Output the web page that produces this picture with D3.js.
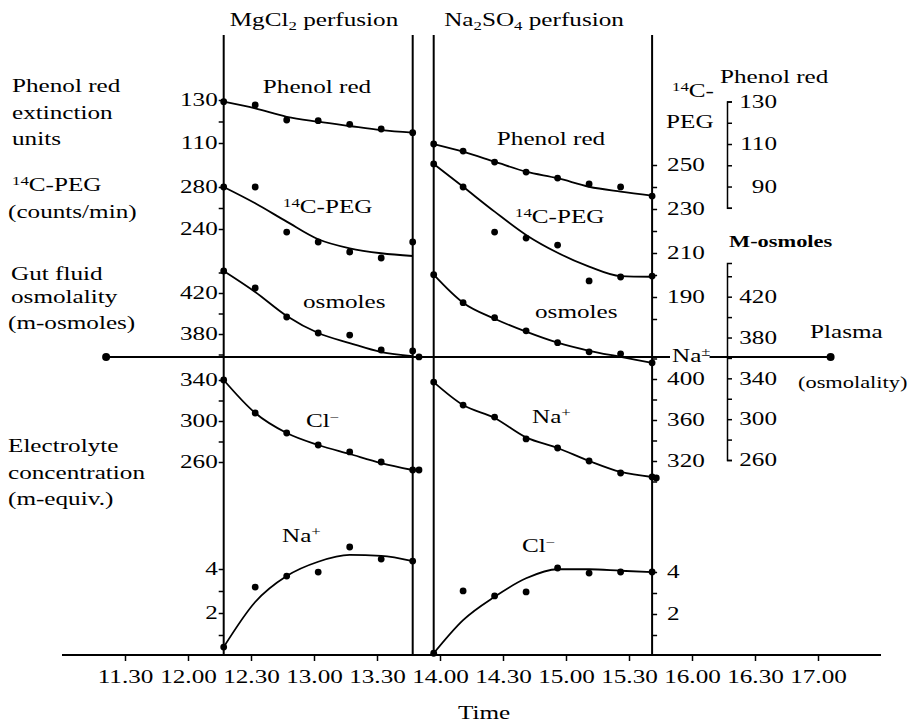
<!DOCTYPE html>
<html>
<head>
<meta charset="utf-8">
<script src="https://cdn.jsdelivr.net/npm/d3@7"></script>
<style>
  body { margin: 0; background: #fff; }
  svg { display: block; font-family: "Liberation Serif", "Times New Roman", serif; }
</style>
</head>
<body>
<div id="chart"></div>
<script>
// ---- data (times as h.mm clock readings) ----
const timeTicks = ['11.30', '12.00', '12.30', '13.00', '13.30', '14.00', '14.30', '15.00', '15.30', '16.00', '16.30', '17.00'];
const axisSpan = ['11.00', '17.30'];

const mgTimes = ['12.17', '12.32', '12.47', '13.02', '13.17', '13.32', '13.47'];
const naTimes = ['13.57', '14.11', '14.26', '14.41', '14.56', '15.11', '15.26', '15.41'];

// MgCl2 perfusion
const phenolMgDots = [129.2, 127.7, 120.7, 120.4, 118.7, 116.5, 114.8];
const phenolMgFit  = [129.2, 126.1, 122.2, 119.9, 117.9, 116.0, 114.8];
const pegMgDots    = [280, 280, 237.1, 227.6, 218.1, 212.4, 227.6];
const pegMgFit     = [280, 264.5, 247, 230.2, 221.6, 216.9, 214.3];
const osmMgDots    = [441.5, 424.9, 396.6, 381, 379, 364.4, 363.4];
const osmMgFit     = [441.5, 421, 397.6, 381, 371.2, 362.4, 358.5];
const clMgDots     = [340, 307.8, 288.3, 276.6, 269.8, 260, 252.2];
const clMgFit      = [340, 307.8, 288.3, 276.6, 267.8, 259, 252.2];
const naMgDots     = [0.45, 3.18, 3.68, 3.86, 5.0, 4.45, 4.36];
const naMgFit      = [0.45, 2.5, 3.68, 4.33, 4.64, 4.6, 4.36];
const mgExtraTime  = '13.50';
const osmMgExtra   = 357.6;
const clMgExtra    = 252.2;

// Na2SO4 perfusion
const phenolNaDots = [110, 106.7, 101.5, 96.8, 94, 91.2, 89.8, 85.5];
const phenolNaFit  = [110, 106.4, 101.7, 97, 93.9, 89.9, 87.6, 85.7];
const pegNaDots    = [250.5, 240, 219.5, 216.8, 213.6, 197.3, 199.1, 199.5];
const pegNaFit     = [250.5, 240.1, 228.8, 218.2, 210.1, 203.8, 199.5, 199.2];
const osmNaDots    = [441.6, 414.1, 399.4, 386.6, 374.9, 366, 364, 355.2];
const osmNaFit     = [441.6, 414.1, 398.4, 385.7, 374.9, 367, 361.1, 355.2];
const naNaDots     = [397, 374.6, 362.9, 341.5, 332.7, 320, 308.3, 304.4];
const naNaFit      = [397, 374.6, 362, 343, 332.7, 320, 309.3, 304.4];
const clNaDots     = [0.13, 3.1, 2.86, 3.05, 4.19, 3.95, 4, 4];
const clNaFit      = [0.13, 1.71, 2.82, 3.70, 4.13, 4.13, 4.06, 3.99];
const naExtraTime  = '15.43';
const naNaExtra    = 303.4;

// plasma osmolality line (M-osmoles scale)
const plasmaSpan = ['11.21', '17.06'];
const plasmaOsm = 361;

// tick values / labels per scale
const phenolLTicks = [110, 120, 130], phenolLLabels = [110, 130];
const pegLTicks = [240, 260, 280], pegLLabels = [240, 280];
const osmLTicks = [360, 380, 400, 420, 440], osmLLabels = [380, 420];
const clLTicks = [260, 280, 300, 320, 340], clLLabels = [260, 300, 340];
const smallTicks = [1, 2, 3, 4], smallLabels = [2, 4];
const pegMTicks = [180, 190, 200, 210, 220, 230, 240, 250], pegMLabels = [190, 210, 230, 250];
const naMTicks = [300, 320, 340, 360, 380, 400, 420], naMLabels = [320, 360, 400];
const phenolRTicks = [80, 90, 100, 110, 120, 130], phenolRLabels = [90, 110, 130];
const osmRTicks = [260, 280, 300, 320, 340, 360, 380, 400, 420, 440], osmRLabels = [260, 300, 340, 380, 420];

// ---- layout ----
const W = 919, H = 727;
const TOP = 35, BASE = 655;
const SX = 1.4;           // the print face is much wider than Times
const FS = 18;
const ink = '#000';

const toMin = s => { const [h, m] = s.split('.').map(Number); return h * 60 + m; };

const svg = d3.select('#chart').append('svg').attr('width', W).attr('height', H);
svg.append('rect').attr('width', W).attr('height', H).attr('fill', '#fff');

const x = d3.scaleLinear().domain([toMin('11.30'), toMin('17.00')]).range([125, 818]);

// y scales (each panel has its own)
const phenolL = d3.scaleLinear().domain([110, 130]).range([143, 100]);
const pegL    = d3.scaleLinear().domain([240, 280]).range([229, 187]);
const osmL    = d3.scaleLinear().domain([380, 420]).range([334, 293]);
const clL     = d3.scaleLinear().domain([260, 340]).range([462, 380]);
const naL     = d3.scaleLinear().domain([0, 4]).range([657, 569]);
const pegM    = d3.scaleLinear().domain([190, 250]).range([297, 165]);
const naM     = d3.scaleLinear().domain([320, 400]).range([461, 379]);
const clM     = d3.scaleLinear().domain([0, 4]).range([656, 572]);
const phenolR = d3.scaleLinear().domain([80, 130]).range([207.8, 101.5]);
const osmR    = d3.scaleLinear().domain([260, 453]).range([460, 263]);

// text helper: parts = [[str, 'sup'|'sub'|undefined], ...]
function label(sel, px, py, parts, anchor = 'start', opt = {}) {
  const t = sel.append('text')
    .attr('transform', `translate(${px},${py}) scale(${SX},1)`)
    .attr('text-anchor', anchor)
    .attr('font-size', opt.size || FS)
    .attr('font-weight', opt.weight || null)
    .attr('fill', ink);
  let prev = 0;
  (typeof parts === 'string' ? [[parts]] : parts).forEach(([s, kind]) => {
    const dy = kind === 'sup' ? -6 : kind === 'sub' ? 4 : 0;
    t.append('tspan').attr('dy', dy - prev).attr('font-size', kind ? 12 : null).text(s);
    prev = dy;
  });
  return t;
}

// ---- time axis ----
svg.append('line')
  .attr('x1', x(toMin(axisSpan[0]))).attr('x2', x(toMin(axisSpan[1])))
  .attr('y1', BASE).attr('y2', BASE)
  .attr('stroke', ink).attr('stroke-width', 2);

const xAxis = svg.append('g').attr('transform', `translate(0,${BASE})`)
  .call(d3.axisBottom(x).tickValues(timeTicks.map(toMin)).tickSize(6)
    .tickFormat((d, i) => timeTicks[i]));
xAxis.select('.domain').remove();
xAxis.attr('font-family', null).attr('font-size', FS);
xAxis.selectAll('line').attr('stroke', ink).attr('stroke-width', 1.5);
xAxis.selectAll('text').attr('y', 15).attr('x', 0).attr('fill', ink)
  .attr('transform', `scale(${SX},1)`);

label(svg, x(toMin('14.21')), 719, 'Time', 'middle');

// ---- perfusion boundary lines ----
[mgTimes[0], mgTimes[mgTimes.length - 1], naTimes[0], naTimes[naTimes.length - 1]].forEach(t => {
  svg.append('line')
    .attr('x1', x(toMin(t))).attr('x2', x(toMin(t)))
    .attr('y1', TOP).attr('y2', BASE)
    .attr('stroke', ink).attr('stroke-width', 2);
});

const axL = x(toMin(mgTimes[0]));
const axM = x(toMin(naTimes[naTimes.length - 1]));

function styleAxis(g, labelX, anchor) {
  g.select('.domain').remove();
  g.attr('font-family', null).attr('font-size', FS);
  g.selectAll('line').attr('stroke', ink).attr('stroke-width', 1.5);
  g.selectAll('text').attr('fill', ink)
    .attr('x', labelX / SX).attr('text-anchor', anchor)
    .attr('transform', `scale(${SX},1)`);
}

const fmtIn = labels => d => labels.includes(d) ? d : '';

// left axis (MgCl2 start line)
[[phenolL, phenolLTicks, phenolLLabels], [pegL, pegLTicks, pegLLabels], [osmL, osmLTicks, osmLLabels],
 [clL, clLTicks, clLLabels], [naL, smallTicks, smallLabels]].forEach(([s, tv, lb]) => {
  const g = svg.append('g').attr('transform', `translate(${axL},0)`)
    .call(d3.axisLeft(s).tickValues(tv).tickSize(5).tickFormat(fmtIn(lb)));
  styleAxis(g, -6, 'end');
});

// middle axis (Na2SO4 end line)
[[pegM, pegMTicks, pegMLabels], [naM, naMTicks, naMLabels], [clM, smallTicks, smallLabels]].forEach(([s, tv, lb]) => {
  const g = svg.append('g').attr('transform', `translate(${axM},0)`)
    .call(d3.axisRight(s).tickValues(tv).tickSize(5).tickFormat(fmtIn(lb)));
  styleAxis(g, 15, 'start');
});

// right bracket scales
const brX = 727;
[[phenolR, phenolRTicks, phenolRLabels], [osmR, osmRTicks, osmRLabels]].forEach(([s, tv, lb]) => {
  const g = svg.append('g').attr('transform', `translate(${brX},0)`)
    .call(d3.axisRight(s).tickValues(tv).tickSize(5).tickSizeOuter(5).tickFormat(fmtIn(lb)));
  g.select('.domain').attr('stroke', ink).attr('stroke-width', 1.5).attr('fill', 'none');
  g.attr('font-family', null).attr('font-size', FS);
  g.selectAll('line').attr('stroke', ink).attr('stroke-width', 1.5);
  g.selectAll('text').attr('fill', ink).attr('x', 50 / SX).attr('text-anchor', 'end')
    .attr('transform', `scale(${SX},1)`);
});

// ---- plasma line ----
const plasmaY = osmR(plasmaOsm);
svg.append('line')
  .attr('x1', x(toMin(plasmaSpan[0]))).attr('x2', x(toMin(plasmaSpan[1])))
  .attr('y1', plasmaY).attr('y2', plasmaY)
  .attr('stroke', ink).attr('stroke-width', 2);
svg.selectAll('circle.plasma').data(plasmaSpan).join('circle').attr('class', 'plasma')
  .attr('cx', d => x(toMin(d))).attr('cy', plasmaY).attr('r', 4).attr('fill', ink);
const naPm = label(svg, 672, 362, [['Na'], ['±', 'sup']]);
const bb = naPm.node().getBBox();
svg.insert('rect', () => naPm.node())
  .attr('x', 670).attr('y', plasmaY - 3).attr('width', bb.width * SX + 1).attr('height', 6)
  .attr('fill', '#fff');

// ---- series ----
const line = d3.line().curve(d3.curveMonotoneX);
const series = [
  { t: mgTimes, dots: phenolMgDots, fit: phenolMgFit, y: phenolL },
  { t: mgTimes, dots: pegMgDots, fit: pegMgFit, y: pegL },
  { t: mgTimes, dots: osmMgDots, fit: osmMgFit, y: osmL },
  { t: mgTimes, dots: clMgDots, fit: clMgFit, y: clL },
  { t: mgTimes, dots: naMgDots, fit: naMgFit, y: naL },
  { t: naTimes, dots: phenolNaDots, fit: phenolNaFit, y: phenolR },
  { t: naTimes, dots: pegNaDots, fit: pegNaFit, y: pegM },
  { t: naTimes, dots: osmNaDots, fit: osmNaFit, y: osmR },
  { t: naTimes, dots: naNaDots, fit: naNaFit, y: naM },
  { t: naTimes, dots: clNaDots, fit: clNaFit, y: clM },
];
const extras = [
  { t: mgExtraTime, v: osmMgExtra, y: osmL },
  { t: mgExtraTime, v: clMgExtra, y: clL },
  { t: naExtraTime, v: naNaExtra, y: naM },
];

const gS = svg.append('g');
series.forEach(s => {
  gS.append('path')
    .attr('d', line(s.fit.map((v, i) => [x(toMin(s.t[i])), s.y(v)])))
    .attr('fill', 'none').attr('stroke', ink).attr('stroke-width', 1.8);
  gS.selectAll(null).data(s.dots).join('circle')
    .attr('cx', (d, i) => x(toMin(s.t[i]))).attr('cy', d => s.y(d))
    .attr('r', 3.4).attr('fill', ink);
});
gS.selectAll('circle.extra').data(extras).join('circle').attr('class', 'extra')
  .attr('cx', d => x(toMin(d.t))).attr('cy', d => d.y(d.v)).attr('r', 3.4).attr('fill', ink);

// ---- texts ----
label(svg, 314, 26, [['MgCl'], ['2', 'sub'], [' perfusion']], 'middle');
label(svg, 534, 26, [['Na'], ['2', 'sub'], ['SO'], ['4', 'sub'], [' perfusion']], 'middle');

// left column
[['Phenol red', 92], ['extinction', 119], ['units', 145]].forEach(([s, yy]) => label(svg, 12, yy, s));
label(svg, 12, 191, [['14', 'sup'], ['C-PEG']]);
label(svg, 8, 218, '(counts/min)');
[['Gut fluid', 280], ['osmolality', 303], ['(m-osmoles)', 329]].forEach(([s, yy], i) => label(svg, i === 2 ? 8 : 11, yy, s));
[['Electrolyte', 452], ['concentration', 479], ['(m-equiv.)', 505]].forEach(([s, yy]) => label(svg, 8, yy, s));

// series names
label(svg, 317, 93, 'Phenol red', 'middle');
label(svg, 551, 145, 'Phenol red', 'middle');
label(svg, 283, 213, [['14', 'sup'], ['C-PEG']]);
label(svg, 515, 223, [['14', 'sup'], ['C-PEG']]);
label(svg, 303, 308, 'osmoles');
label(svg, 535, 318, 'osmoles');
label(svg, 306, 427, [['Cl'], ['\u2212', 'sup']]);
label(svg, 282, 542, [['Na'], ['+', 'sup']]);
label(svg, 532, 423, [['Na'], ['+', 'sup']]);
label(svg, 522, 552, [['Cl'], ['\u2212', 'sup']]);

// right side
label(svg, 672, 97, [['14', 'sup'], ['C-']]);
label(svg, 666, 128, 'PEG');
label(svg, 720, 83, 'Phenol red');
label(svg, 729, 247, 'M-osmoles', 'start', { size: 16, weight: 'bold' });
label(svg, 810, 338, 'Plasma');
label(svg, 798, 388, '(osmolality)', 'start', { size: 16 });
</script>
</body>
</html>
